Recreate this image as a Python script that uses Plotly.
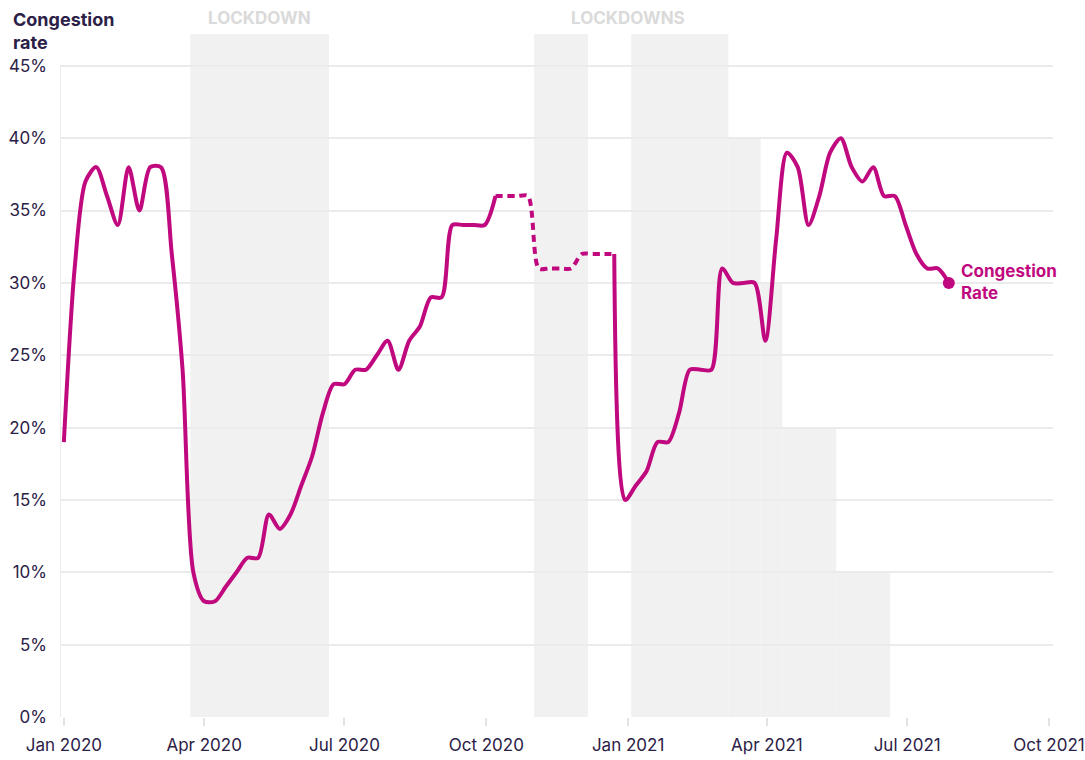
import plotly.graph_objects as go
import pandas as pd

# ---- data (weekly congestion rate, %) ----
week_start = "2020-01-01"
congestion = [
    19, 31, 37, 38, 36, 34, 38, 35, 38, 38,
    32, 24, 10, 8, 8, 9, 10, 11, 11, 14,
    13, 14, 16, 18, 21, 23, 23, 24, 24, 25,
    26, 24, 26, 27, 29, 29, 34, 34, 34, 34,
    36, 36, 36, 36, 31, 31, 31, 31, 32, 32,
    32, 32, 15, 16, 17, 19, 19, 21, 24, 24,
    24, 31, 30, 30, 30, 26, 33, 39, 38, 34,
    36, 39, 40, 38, 37, 38, 36, 36, 34, 32,
    31, 31, 30,
]
dates = list(pd.date_range(week_start, periods=len(congestion), freq="7D"))
estimated_from, estimated_to = 40, 51   # weeks shown dashed (estimated)

# lockdown periods (shaded); top = level of restriction (None = full height)
lockdown_start = ["2020-03-23", "2020-11-01", "2021-01-03", "2021-03-07", "2021-03-28", "2021-04-11", "2021-05-16"]
lockdown_end   = ["2020-06-21", "2020-12-06", "2021-03-07", "2021-03-28", "2021-04-11", "2021-05-16", "2021-06-20"]
lockdown_top   = [None, None, None, 40, 30, 20, 10]
lockdown_labels = ["LOCKDOWN", "LOCKDOWNS"]
lockdown_label_x = ["2020-05-07", "2021-01-01"]

y_ticks = [0, 5, 10, 15, 20, 25, 30, 35, 40, 45]
x_range = ["2019-12-29 12:00", "2021-10-03 14:00"]
Y_TOP = 47.2

LINE = "#C0097F"
TEXT = "#2B2046"
GRID = "#EBEBEB"
SHADE = "#F1F1F1"
FONT = "Inter"

solid = [v if (i <= estimated_from or i >= estimated_to) else None for i, v in enumerate(congestion)]
dashed_x = dates[estimated_from:estimated_to + 1]
dashed_y = congestion[estimated_from:estimated_to + 1]

fig = go.Figure()
fig.add_trace(go.Scatter(x=dates, y=solid, mode="lines", connectgaps=False,
                         line=dict(color=LINE, width=4, shape="spline", smoothing=0.8),
                         hoverinfo="skip", showlegend=False))
fig.add_trace(go.Scatter(x=dashed_x, y=dashed_y, mode="lines",
                         line=dict(color=LINE, width=4, shape="spline", smoothing=0.8, dash="7px,5px"),
                         hoverinfo="skip", showlegend=False))
fig.add_trace(go.Scatter(x=[dates[-1]], y=[congestion[-1]], mode="markers",
                         marker=dict(color=LINE, size=12), hoverinfo="skip", showlegend=False))

shapes = []
for s, e, t in zip(lockdown_start, lockdown_end, lockdown_top):
    shapes.append(dict(type="rect", xref="x", yref="y", x0=s, x1=e, y0=0,
                       y1=Y_TOP if t is None else t, fillcolor=SHADE,
                       line=dict(width=0), layer="below"))
# left axis line
shapes.append(dict(type="line", xref="x", yref="y", x0=x_range[0], x1=x_range[0],
                   y0=0, y1=y_ticks[-1], line=dict(color=GRID, width=2), layer="below"))

# plot area: x 60..1053, y 34..717 (px)
annotations = [
    dict(text="<b>Congestion<br>rate</b>", xref="paper", yref="paper", x=-0.049, y=1.04,
         xanchor="left", yanchor="top", align="left", showarrow=False,
         font=dict(family=FONT, size=18, color=TEXT)),
    dict(text="<b>Congestion<br>Rate</b>", xref="x", yref="y", x=dates[-1], y=congestion[-1],
         xanchor="left", yanchor="middle", align="left", xshift=10, yshift=1, showarrow=False,
         font=dict(family=FONT, size=17, color=LINE)),
]
for lbl, lx in zip(lockdown_labels, lockdown_label_x):
    annotations.append(dict(text="<b>" + lbl + "</b>", xref="x", yref="paper", x=lx, y=1.024,
                            xanchor="center", yanchor="middle", showarrow=False,
                            font=dict(family=FONT, size=17, color="#DADADA")))

fig.update_layout(
    width=1085, height=760,
    margin=dict(l=60, r=32, t=34, b=43),
    paper_bgcolor="white", plot_bgcolor="white",
    font=dict(family=FONT, size=17, color=TEXT),
    shapes=shapes, annotations=annotations,
    xaxis=dict(type="date", range=x_range, dtick="M3", tick0="2020-01-01",
               tickformat="%b %Y", showgrid=False, zeroline=False, showline=False,
               ticks="outside", ticklen=8, tickwidth=2, tickcolor="#E3E3E3",
               tickfont=dict(family=FONT, size=17, color=TEXT), ticklabelstandoff=5,
               automargin=False),
    yaxis=dict(range=[0, Y_TOP], tickvals=y_ticks, ticktext=[f"{v}%" for v in y_ticks],
               showgrid=True, gridcolor=GRID, gridwidth=2, zeroline=False, showline=False,
               ticks="", tickfont=dict(family=FONT, size=17, color=TEXT), ticklabelstandoff=12,
               automargin=False),
)

fig.write_html("out.html", config={"displayModeBar": False},
               post_script="document.body.style.margin='0';document.body.style.overflow='hidden';")
